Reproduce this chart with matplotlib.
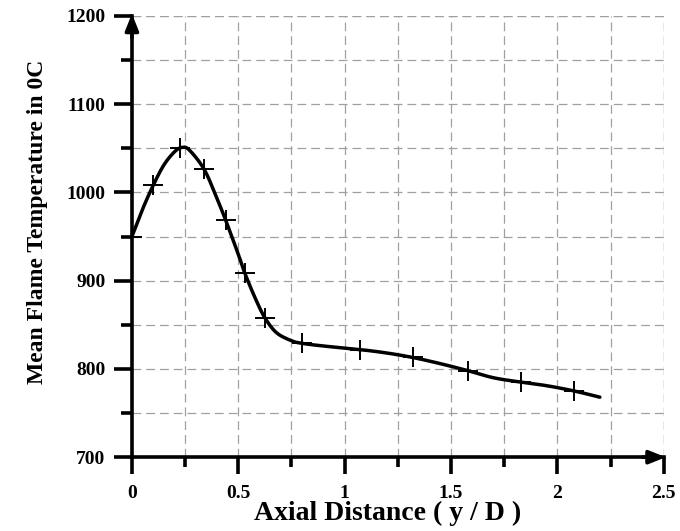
import numpy as np
import matplotlib
matplotlib.use("Agg")
import matplotlib.pyplot as plt
from matplotlib.ticker import MultipleLocator

# Marker points (+)
marker_x = [0.0, 0.10, 0.225, 0.34, 0.44, 0.53, 0.625, 0.80, 1.07, 1.32, 1.58, 1.83, 2.08]
marker_y = [950, 1008, 1050, 1026, 969, 909, 858, 829, 822, 813, 798, 785, 775]

# Smooth curve points
curve_x = [0.0, 0.05, 0.10, 0.15, 0.20, 0.235, 0.27, 0.34, 0.40, 0.44, 0.50, 0.53, 0.58,
           0.625, 0.68, 0.75, 0.80, 0.90, 1.07, 1.20, 1.32, 1.45, 1.58, 1.70, 1.83, 1.95,
           2.08, 2.20]
curve_y = [950, 981, 1008, 1031, 1046, 1051, 1048, 1026, 993, 969, 930, 909, 880,
           858, 841, 832, 829, 826, 822, 818, 813, 806, 798, 790, 785, 781,
           775, 768]

x_ticks = [0, 0.5, 1, 1.5, 2, 2.5]
x_tick_labels = ["0", "0.5", "1", "1.5", "2", "2.5"]
y_ticks = [700, 800, 900, 1000, 1100, 1200]
y_tick_labels = ["700", "800", "900", "1000", "1100", "1200"]


def catmull_rom(xs, ys, n=20):
    P = np.column_stack([xs, ys]).astype(float)
    P = np.vstack([2 * P[0] - P[1], P, 2 * P[-1] - P[-2]])
    out = []
    t = np.linspace(0, 1, n, endpoint=False)[:, None]
    for i in range(1, len(P) - 2):
        p0, p1, p2, p3 = P[i - 1], P[i], P[i + 1], P[i + 2]
        seg = 0.5 * ((2 * p1) + (-p0 + p2) * t + (2 * p0 - 5 * p1 + 4 * p2 - p3) * t ** 2
                     + (-p0 + 3 * p1 - 3 * p2 + p3) * t ** 3)
        out.append(seg)
    out.append(P[-2][None, :])
    out = np.vstack(out)
    return out[:, 0], out[:, 1]


plt.rcParams['font.family'] = ['Liberation Serif', 'DejaVu Serif']
plt.rcParams['font.weight'] = 'bold'

fig = plt.figure(figsize=(6.8, 5.31), dpi=100)
ax = fig.add_axes([0.194, 0.139, 0.782, 0.831])

ax.set_xlim(0, 2.5)
ax.set_ylim(700, 1200)

sx, sy = catmull_rom(curve_x, curve_y)
ax.plot(sx, sy, color='black', lw=2.5, solid_capstyle='round', zorder=3, clip_on=False)
ax.plot(marker_x, marker_y, linestyle='none', marker='+', markersize=15,
        markeredgewidth=1.4, color='black', zorder=4, clip_on=False)

ax.xaxis.set_major_locator(MultipleLocator(0.5))
ax.xaxis.set_minor_locator(MultipleLocator(0.25))
ax.yaxis.set_major_locator(MultipleLocator(100))
ax.yaxis.set_minor_locator(MultipleLocator(50))
ax.set_xticks(x_ticks)
ax.set_xticklabels(x_tick_labels)
ax.set_yticks(y_ticks)
ax.set_yticklabels(y_tick_labels)

grid_style = dict(color='#a0a0a0', linestyle=(0, (7, 4)), linewidth=0.9)
ax.grid(which='both', **grid_style)
ax.set_axisbelow(True)

for s in ['top', 'right']:
    ax.spines[s].set_visible(False)
for s in ['left', 'bottom']:
    ax.spines[s].set_linewidth(2.6)
    ax.spines[s].set_zorder(5)

ax.tick_params(axis='x', which='major', direction='out', length=12, width=2.6, pad=8, labelsize=14)
ax.tick_params(axis='x', which='minor', direction='out', length=7, width=2.6)
ax.tick_params(axis='y', which='major', direction='out', length=13, width=2.6, pad=6, labelsize=14)
ax.tick_params(axis='y', which='minor', direction='out', length=8, width=2.6)
for lab in ax.get_xticklabels() + ax.get_yticklabels():
    lab.set_fontweight('bold')

# right-edge and top grid lines
ax.axvline(2.5, zorder=0, **grid_style)
ax.axhline(1200, zorder=0, **grid_style)

# arrow heads
ax.annotate('', xy=(0, 1.005), xytext=(0, 0.95), xycoords='axes fraction',
            arrowprops=dict(arrowstyle='-|>,head_length=1.0,head_width=0.4', color='black', lw=2.6,
                            shrinkA=0, shrinkB=0),
            annotation_clip=False)
ax.annotate('', xy=(1.004, 0), xytext=(0.96, 0), xycoords='axes fraction',
            arrowprops=dict(arrowstyle='-|>,head_length=1.0,head_width=0.4', color='black', lw=2.6,
                            shrinkA=0, shrinkB=0),
            annotation_clip=False)

ax.set_xlabel('Axial Distance ( y / D )', fontsize=20, fontweight='bold')
ax.set_ylabel('Mean Flame Temperature in 0C', fontsize=17, fontweight='bold')
ax.xaxis.set_label_coords(0.48, -0.128, transform=ax.transAxes)
ax.xaxis.label.set_va('center')
ax.yaxis.set_label_coords(-0.178, 0.533, transform=ax.transAxes)
ax.yaxis.label.set_va('center')

fig.savefig('out.png', dpi=100)
